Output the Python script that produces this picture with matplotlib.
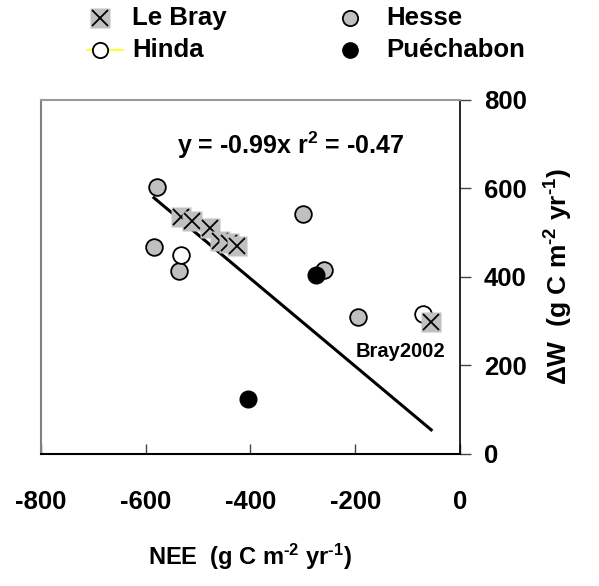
import numpy as np
import matplotlib.pyplot as plt

plt.rcParams['font.family'] = ['Liberation Sans', 'DejaVu Sans']
plt.rcParams['font.weight'] = 'bold'
plt.rcParams['axes.unicode_minus'] = False
plt.rcParams['mathtext.fontset'] = 'custom'
plt.rcParams['mathtext.rm'] = 'Liberation Sans:bold'
plt.rcParams['mathtext.bf'] = 'Liberation Sans:bold'
plt.rcParams['mathtext.default'] = 'rm'

# data (NEE, dW)
bray_nee = [-532, -511, -477, -458, -441, -425, -55]
bray_dw = [534, 525, 509, 480, 476, 469, 297]
hesse_nee = [-578, -584, -536, -300, -259, -195]
hesse_dw = [602, 466, 412, 541, 416, 309]
hinda_nee = [-532, -70]
hinda_dw = [448, 315]
puech_nee = [-275, -404]
puech_dw = [403, 125]
slope = -0.99

fig = plt.figure(figsize=(5.99, 5.86), dpi=100)
ax = fig.add_axes([0.068, 0.2253, 0.700, 0.6049])

# regression line
allx = bray_nee + hesse_nee + hinda_nee + puech_nee
xl = np.array([min(allx), max(allx)])
ax.plot(xl, slope * xl, color='black', lw=2.2, zorder=2)

ax.plot(hesse_nee, hesse_dw, 'o', ms=12, mfc='#c0c0c0', mec='black', mew=1.3, ls='none', zorder=3)
ax.plot(hinda_nee, hinda_dw, 'o', ms=12, mfc='white', mec='black', mew=1.3, ls='none', zorder=3)
for x, y in zip(bray_nee, bray_dw):
    ax.plot(x, y, 's', ms=14.5, mfc='#c0c0c0', mec='none', zorder=4)
    ax.plot(x, y, 'x', ms=12, mec='black', mew=1.3, zorder=4)
ax.plot(puech_nee, puech_dw, 'o', ms=12, mfc='black', mec='black', ls='none', zorder=5)

ax.set_xlim(-800, 0)
ax.set_ylim(0, 800)
ax.set_xticks([-800, -600, -400, -200, 0])
ax.set_yticks([0, 200, 400, 600, 800])
ax.yaxis.tick_right()
ax.yaxis.set_label_position('right')
ax.tick_params(axis='x', direction='in', length=7, width=1, color='#444444', pad=26, labelsize=18.5)
ax.tick_params(axis='y', direction='out', length=8, width=1, color='#444444', pad=9, labelsize=18.5)
for lab in ax.get_xticklabels() + ax.get_yticklabels():
    lab.set_fontweight('bold')
ax.spines['left'].set_color('#808080')
ax.spines['top'].set_color('#999999')
ax.spines['left'].set_linewidth(1.5)
ax.spines['top'].set_linewidth(1.5)
ax.spines['right'].set_linewidth(1.2)
ax.spines['bottom'].set_linewidth(1.5)

ax.set_xlabel(r'NEE  (g C m$^{\text{-2}}$ yr$^{\text{-1}}$)', fontsize=17, fontweight='bold', labelpad=20)
ax.set_ylabel(r'$\Delta$W  (g C m$^{\text{-2}}$ yr$^{\text{-1}}$)', fontsize=19, fontweight='bold',
              rotation=90, labelpad=12)

ax.text(-540, 697, r'y = -0.99x r$^{\text{2}}$ = -0.47', fontsize=18, fontweight='bold', va='center')
ax.text(-200, 232, 'Bray2002', fontsize=14.5, fontweight='bold', va='center')

# legend drawn by hand in pixel coords
lg = fig.add_axes([0, 0, 1, 1], zorder=-1)
lg.set_xlim(0, 599)
lg.set_ylim(586, 0)
lg.axis('off')
lg.plot(100, 18, 's', ms=14.5, mfc='#c0c0c0', mec='none')
lg.plot(100, 18, 'x', ms=12, mec='black', mew=1.3)
lg.plot([87, 123], [50, 50], color='yellow', lw=1.2)
lg.plot(100, 50, 'o', ms=11, mfc='white', mec='black', mew=1.3)
lg.plot(350, 18, 'o', ms=11, mfc='#c0c0c0', mec='black', mew=1.3)
lg.plot(350, 50, 'o', ms=11, mfc='black', mec='black')
lg.text(132, 18, 'Le Bray', fontsize=18.5, fontweight='bold', va='center')
lg.text(132, 50, 'Hinda', fontsize=18.5, fontweight='bold', va='center')
lg.text(386, 18, 'Hesse', fontsize=18.5, fontweight='bold', va='center')
lg.text(386, 50, 'Puéchabon', fontsize=18.5, fontweight='bold', va='center')

fig.savefig('out.png', dpi=100)
